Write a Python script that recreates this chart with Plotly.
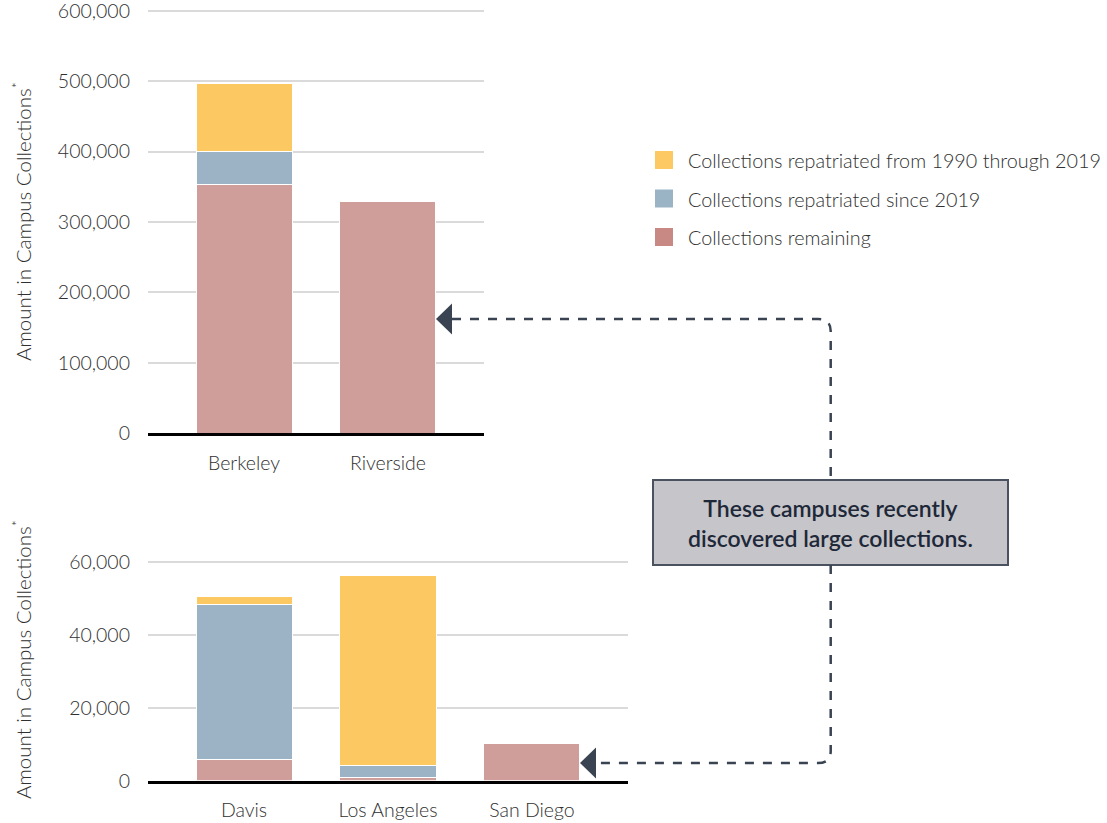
import plotly.graph_objects as go

# ---------------- data ----------------
top_campuses = ["Berkeley", "Riverside"]
top_remaining = [353000, 329000]
top_since_2019 = [47000, 0]
top_1990_2019 = [96000, 0]

bottom_campuses = ["Davis", "Los Angeles", "San Diego"]
bottom_remaining = [5800, 750, 10100]
bottom_since_2019 = [42700, 3450, 0]
bottom_1990_2019 = [2200, 52300, 0]

series_names = [
    "Collections repatriated from 1990 through 2019",
    "Collections repatriated since 2019",
    "Collections remaining",
]
series_colors = ["#FCC862", "#9BB3C5", "#CF9E9A"]
legend_colors = ["#FDC962", "#9AB4C6", "#C88884"]

top_ticks = [0, 100000, 200000, 300000, 400000, 500000, 600000]
bottom_ticks = [0, 20000, 40000, 60000]

y_title = "Amount in Campus Collections<sup>*</sup>"
callout_text = "These campuses recently<br>discovered large collections."

# ---------------- layout helpers ----------------
W, H = 1107, 823
FONT = "Lato"
TXT = "#303030"


def px(x):
    return x / W


def py(y):
    return 1 - y / H


fig = go.Figure()

top_stack = [top_remaining, top_since_2019, top_1990_2019]
bot_stack = [bottom_remaining, bottom_since_2019, bottom_1990_2019]
order = [2, 1, 0]  # remaining at bottom, then since 2019, then 1990-2019

for i, idx in enumerate(order):
    fig.add_trace(go.Bar(
        x=top_campuses, y=top_stack[i], name=series_names[idx],
        marker=dict(color=series_colors[idx], line=dict(color="white", width=1)),
        xaxis="x", yaxis="y", showlegend=False,
    ))
    fig.add_trace(go.Bar(
        x=bottom_campuses, y=bot_stack[i], name=series_names[idx],
        marker=dict(color=series_colors[idx], line=dict(color="white", width=1)),
        xaxis="x2", yaxis="y2", showlegend=False,
    ))

tick_font = dict(family=FONT, size=19.5, color=TXT, weight=300)
axis_common = dict(showgrid=False, tickfont=tick_font, ticks="", fixedrange=True,
                   automargin=False, ticklabeloverflow="allow")
yaxis_common = dict(
    showgrid=True, gridcolor="#dadada", gridwidth=1.5, zeroline=False,
    tickfont=tick_font, ticks="", ticklabelstandoff=17,
    tickformat=",d", fixedrange=True, automargin=False,
    ticklabeloverflow="allow",
)

fig.update_layout(
    width=W, height=H,
    margin=dict(l=0, r=0, t=0, b=0, autoexpand=False),
    paper_bgcolor="white", plot_bgcolor="white",
    barmode="stack", bargap=0.333,
    showlegend=False,
    xaxis=dict(**axis_common, domain=[px(148), px(484)], range=[-0.667, 1.667],
               anchor="y", showline=True, linecolor="black", linewidth=3,
               ticklabelstandoff=10),
    yaxis=dict(**yaxis_common, domain=[py(433.3), py(8.6)], range=[0, 603000],
               tickvals=top_ticks, anchor="x"),
    xaxis2=dict(**axis_common, domain=[px(148), px(628)], range=[-0.667, 2.667],
                anchor="y2", showline=True, linecolor="black", linewidth=3,
                ticklabelstandoff=10),
    yaxis2=dict(**yaxis_common, domain=[py(780.7), py(561.2)], range=[0, 60300],
                tickvals=bottom_ticks, anchor="x2"),
)

annotations = []
shapes = []

# y-axis titles
for yc in (222, 660):
    annotations.append(dict(
        text=y_title, x=px(21), y=py(yc), xref="paper", yref="paper",
        showarrow=False, textangle=-90, xanchor="center", yanchor="middle",
        font=dict(family=FONT, size=20.5, color=TXT, weight=300),
    ))

# manual legend
for k, (name, col) in enumerate(zip(series_names, legend_colors)):
    yc = 160 + k * 38.5
    shapes.append(dict(type="rect", xref="paper", yref="paper",
                       x0=px(655), x1=px(673), y0=py(yc - 9), y1=py(yc + 9),
                       fillcolor=col, line=dict(width=0)))
    annotations.append(dict(
        text=name, x=px(686), y=py(yc), xref="paper", yref="paper",
        showarrow=False, xanchor="left", yanchor="middle",
        font=dict(family=FONT, size=19.8, color=TXT, weight=300),
    ))

# callout box
shapes.append(dict(type="rect", xref="paper", yref="paper",
                   x0=px(653), x1=px(1008), y0=py(565), y1=py(480),
                   fillcolor="#C5C5CA", line=dict(color="#4A5260", width=2)))
annotations.append(dict(
    text=callout_text, x=px(830.5), y=py(523),
    xref="paper", yref="paper", showarrow=False,
    xanchor="center", yanchor="middle", align="center",
    font=dict(family=FONT, size=23, color="#1E2838", weight=600),
))

# dashed connectors
LC = "#3A4352"
cx = 830.7
p_top = (f"M {px(452)},{py(319)} L {px(818)},{py(319)} "
         f"Q {px(cx)},{py(319)} {px(cx)},{py(331)} L {px(cx)},{py(480)}")
p_bot = (f"M {px(cx)},{py(565)} L {px(cx)},{py(751)} "
         f"Q {px(cx)},{py(763)} {px(818)},{py(763)} L {px(597)},{py(763)}")
for p in (p_top, p_bot):
    shapes.append(dict(type="path", xref="paper", yref="paper", path=p,
                       line=dict(color=LC, width=2.5, dash="dash"), layer="above"))

# arrow heads
for tipx, tipy, half, length in ((436, 319, 15.5, 16), (580, 763, 15.5, 16)):
    shapes.append(dict(
        type="path", xref="paper", yref="paper",
        path=(f"M {px(tipx)},{py(tipy)} L {px(tipx + length)},{py(tipy - half)} "
              f"L {px(tipx + length)},{py(tipy + half)} Z"),
        fillcolor=LC, line=dict(width=0), layer="above"))

fig.update_layout(annotations=annotations, shapes=shapes)

fig.write_html("out.html", config={"displayModeBar": False},
               post_script="document.body.style.margin='0';")
